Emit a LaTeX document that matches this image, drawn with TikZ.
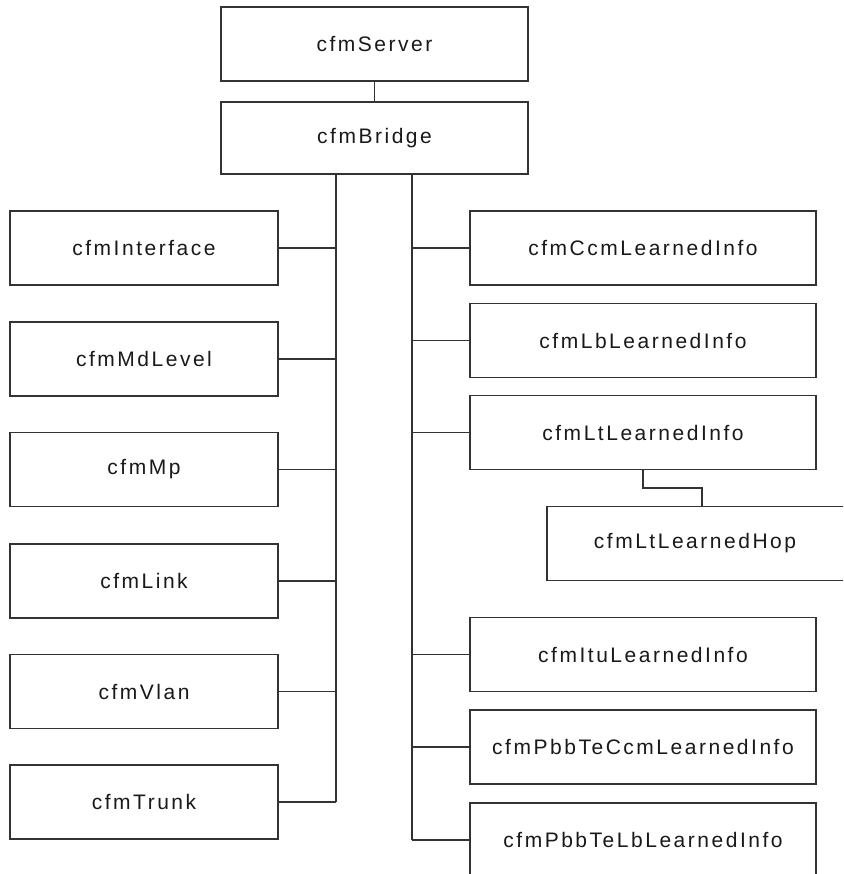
\documentclass[tikz,border=0pt]{standalone}
\usepackage{fontspec}
\setmainfont{Liberation Sans}[LetterSpace=12]
\begin{document}
\begin{tikzpicture}[x=1pt,y=-1pt,
  box/.style={draw=black!80,line width=1.8pt,fill=white,inner sep=0pt,
    minimum height=74pt,text=black!90,font=\fontsize{21}{25}\selectfont},
  topbox/.style={box,minimum width=307pt},
  leftbox/.style={box,minimum width=268pt},
  rightbox/.style={box,minimum width=346pt},
  link/.style={draw=black!80,line width=1.8pt}]
\clip (0,0) rectangle (843,874);
\fill[white] (0,0) rectangle (843,874);
% nodes
\node[topbox] (server) at (374.5,44) {cfmServer};
\node[topbox,minimum height=72pt] (bridge) at (374.5,138) {cfmBridge};
\node[leftbox] (iface) at (144,248) {cfmInterface};
\node[leftbox] (md) at (144,359) {cfmMdLevel};
\node[leftbox] (mp) at (144,469.5) {cfmMp};
\node[leftbox] (lnk) at (144,581) {cfmLink};
\node[leftbox] (vlan) at (144,691.5) {cfmVlan};
\node[leftbox] (trunk) at (144,802) {cfmTrunk};
\node[rightbox] (ccm) at (643,248) {cfmCcmLearnedInfo};
\node[rightbox] (lb) at (643,340.5) {cfmLbLearnedInfo};
\node[rightbox] (lt) at (643,432.5) {cfmLtLearnedInfo};
\node[rightbox,minimum width=350pt] (hop) at (722,543.5) {};
\node at (695,543.5) [text=black!90,font=\fontsize{21}{25}\selectfont] {cfmLtLearnedHop};
\node[rightbox] (itu) at (643,654.5) {cfmItuLearnedInfo};
\node[rightbox] (pccm) at (643,747) {cfmPbbTeCcmLearnedInfo};
\node[rightbox] (plb) at (643,840) {cfmPbbTeLbLearnedInfo};
% trunk coordinates
\coordinate (L) at (336,174);
\coordinate (R) at (412,174);
\coordinate (hx) at (702,488);
% connectors
\draw[link] (server.south) -- (bridge.north);
\draw[link] (bridge.south -| L) -- (L |- trunk.east);
\draw[link] (bridge.south -| R) -- (R |- plb.west);
\foreach \n in {iface,md,mp,lnk,vlan,trunk}
  \draw[link] (\n.east) -- (\n.east -| L);
\foreach \n in {ccm,lb,lt,itu,pccm,plb}
  \draw[link] (\n.west) -- (\n.west -| R);
\draw[link] (lt.south) -- (lt.south |- hx) -- (hx) -- (hx |- hop.north);
\end{tikzpicture}
\end{document}
